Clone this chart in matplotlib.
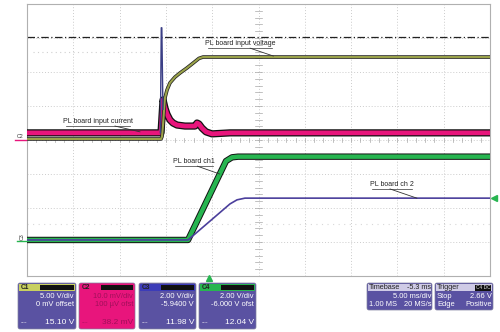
import matplotlib.pyplot as plt
from matplotlib.patches import FancyBboxPatch, Rectangle

plt.rcParams['font.family'] = ['Liberation Sans', 'DejaVu Sans']

# scope screen: time in ms (5 ms/div, 10 div), vertical in divisions (-4..4)
t_volt = [0, 14.47, 14.58, 14.69, 14.80, 14.90, 15.12, 15.44, 15.98, 16.52, 17.28, 17.93, 18.57, 19.01, 50]
v_volt = [0.03, 0.03, 0.10, 0.44, 0.88, 1.24, 1.47, 1.68, 1.85, 1.97, 2.12, 2.26, 2.40, 2.44, 2.44]

t_spike = [14.40, 14.50, 14.56, 14.68]
v_spike = [0.21, 3.30, 3.30, 0.90]

t_curr = [0, 14.47, 14.69, 14.80, 14.90, 15.12, 15.44, 15.77, 16.20, 17.06, 18.14,
          18.36, 18.57, 18.90, 19.33, 19.98, 21.92, 50]
v_curr = [0.21, 0.21, 1.18, 1.06, 0.94, 0.76, 0.59, 0.50, 0.44, 0.41, 0.41,
          0.50, 0.47, 0.35, 0.24, 0.18, 0.21, 0.21]

t_ch1 = [0, 17.39, 21.49, 22.14, 22.79, 50]
v_ch1 = [-2.94, -2.94, -0.62, -0.51, -0.49, -0.49]

t_ch2 = [0, 17.39, 21.92, 22.68, 23.54, 50]
v_ch2 = [-2.94, -2.94, -1.88, -1.76, -1.71, -1.71]

ref_level = 3.03

PURPLE = '#5a52a2'
PINK = '#e8157c'
GREEN = '#27b550'

fig = plt.figure(figsize=(5, 3.32), dpi=100)
ax = fig.add_axes([27 / 500, 56 / 332, 463 / 500, 272 / 332])
ax.set_xlim(0, 50)
ax.set_ylim(-4, 4)
ax.set_xticks(range(0, 51, 5))
ax.set_yticks(range(-4, 5))
ax.grid(True, color='#cccccc', linestyle=(0, (1, 2)), linewidth=0.7)
ax.tick_params(length=0, labelbottom=False, labelleft=False)
for s in ax.spines.values():
    s.set_color('#b0b0b0')
    s.set_linewidth(0.8)

# center cross with small ticks
for i in range(51):
    ax.plot([i, i], [-0.06, 0.06], color='#a8a8a8', lw=0.5)
for i in range(41):
    ax.plot([24.6, 25.4], [-4 + i * 0.2] * 2, color='#a8a8a8', lw=0.5)

# reference lines
ax.axhline(ref_level, color='#222222', lw=0.9, ls=(0, (6, 2, 1, 2)))
ax.plot([0.6, 14.3], [2.59, 2.59], color='#d0d0d0', lw=0.8, ls=(0, (1, 3)))
ax.axhline(-2.47, color='#d8d8d8', lw=0.8, ls=(0, (1, 4)))

# traces
ax.plot(t_curr, v_curr, color='#111111', lw=5.2, zorder=3)
ax.plot(t_curr, v_curr, color=PINK, lw=3.4, zorder=4)
ax.plot(t_volt, v_volt, color='#222222', lw=2.6, zorder=5)
ax.plot(t_volt, v_volt, color='#9aa24a', lw=1.5, zorder=6)
ax.plot(t_spike, v_spike, color='#3b3f86', lw=1.0, zorder=7)
ax.plot(t_ch1, v_ch1, color='#111111', lw=4.6, zorder=3)
ax.plot(t_ch1, v_ch1, color=GREEN, lw=3.2, zorder=4)
ax.plot(t_ch2, v_ch2, color='#4b3f9c', lw=1.2, zorder=5)

# annotations: underlined label plus leader line to the trace
# (text, x, y, half width, leader start x, leader tip)
notes = [
    ('PL board input voltage', 23.0, 2.84, 3.5, 24.1, (26.6, 2.47)),
    ('PL board input current', 7.7, 0.55, 3.45, 9.5, (12.2, 0.24)),
    ('PL board ch1', 18.0, -0.63, 2.05, 18.4, (20.8, -1.0)),
    ('PL board ch 2', 39.4, -1.30, 2.15, 39.2, (42.1, -1.71)),
]
for txt, tx, ty, half, start, tip in notes:
    ax.text(tx, ty, txt, fontsize=5, color='#222222', ha='center', va='center', zorder=8)
    ax.plot([tx - half, tx + half], [ty - 0.14, ty - 0.14], color='#333333', lw=0.5, zorder=8)
    ax.plot([start, tip[0]], [ty - 0.14, tip[1]], color='#333333', lw=0.6, zorder=8)

# overlay in pixel coordinates for the scope chrome
ov = fig.add_axes([0, 0, 1, 1], zorder=10)
ov.set_xlim(0, 500)
ov.set_ylim(332, 0)
ov.axis('off')

ov.text(20, 136, 'C2', fontsize=3.8, color='#333333', ha='center', va='center')
ov.plot([15, 26], [140, 140], color=PINK, lw=1)
ov.text(22, 237, 'C3', fontsize=3.8, color='#333333', ha='center', va='center', rotation=90)
ov.plot([17, 26], [241, 241], color=GREEN, lw=1)
ov.plot([494], [198], marker='<', color=GREEN, markersize=4)
ov.plot([209], [278], marker='^', color=GREEN, markersize=4)

def box(x0, x1, y0, y1, color):
    ov.add_patch(FancyBboxPatch((x0, y0), x1 - x0, y1 - y0,
                                boxstyle='round,pad=0,rounding_size=2',
                                fc=color, ec='#8080a0', lw=0.5))

tf = dict(fontsize=5.4, color='white', ha='right', va='center')

channels = [
    (18, 76, PURPLE, '#c8d060', 'C1', ['5.00 V/div', '0 mV offset'], '15.10 V'),
    (79, 135, PINK, PINK, 'C2', ['10.0 mV/div', '100 \u00b5V ofst'], '38.2 mV'),
    (139, 196, PURPLE, '#3c3cb8', 'C3', ['2.00 V/div', '-5.9400 V'], '11.98 V'),
    (199, 256, PURPLE, GREEN, 'C4', ['2.00 V/div', '-6.000 V ofst'], '12.04 V'),
]
for x0, x1, col, hcol, name, lines, meas in channels:
    box(x0, x1, 283, 329, col)
    ov.add_patch(Rectangle((x0 + 1, 284), x1 - x0 - 2, 6.5, fc=hcol, ec='none'))
    ov.add_patch(Rectangle((x0 + 22, 284.5), x1 - x0 - 24, 5.5, fc='#111111', ec='none'))
    ov.text(x0 + 3, 287.5, name, fontsize=4.8, color='#222222', va='center', fontweight='bold')
    tc = '#a0105a' if col == PINK else 'white'
    ov.text(x1 - 2, 296, lines[0], **{**tf, 'color': tc})
    ov.text(x1 - 2, 304, lines[1], **{**tf, 'color': tc})
    ov.text(x1 - 2, 323, meas, **{**tf, 'color': tc, 'fontsize': 6})
    ov.text(x0 + 3, 323, '----', fontsize=3.5, color=tc, va='center')

# timebase and trigger
box(367, 432, 283, 310, PURPLE)
ov.add_patch(Rectangle((368, 284), 63, 7, fc='#cfcbe6', ec='none'))
ov.text(369, 287.5, 'Timebase', fontsize=5.2, color='#222222', va='center')
ov.text(431, 287.5, '-5.3 ms', fontsize=5.2, color='#222222', va='center', ha='right')
ov.text(431, 297, '5.00 ms/div', **tf)
ov.text(369, 305, '1.00 MS', fontsize=5.4, color='white', va='center')
ov.text(431, 305, '20 MS/s', **tf)

box(435, 493, 283, 310, PURPLE)
ov.add_patch(Rectangle((436, 284), 56, 7, fc='#cfcbe6', ec='none'))
ov.add_patch(Rectangle((475, 284.5), 16, 6, fc='#111111', ec='none'))
ov.text(437, 287.5, 'Trigger', fontsize=5.2, color='#222222', va='center')
ov.text(483, 287.5, 'C4 DC', fontsize=3.5, color='#dddddd', va='center', ha='center')
ov.text(437, 297, 'Stop', fontsize=5.4, color='white', va='center')
ov.text(492, 297, '2.66 V', **tf)
ov.text(437, 305, 'Edge', fontsize=5.4, color='white', va='center')
ov.text(492, 305, 'Positive', **tf)

fig.savefig('out.png', dpi=100)
